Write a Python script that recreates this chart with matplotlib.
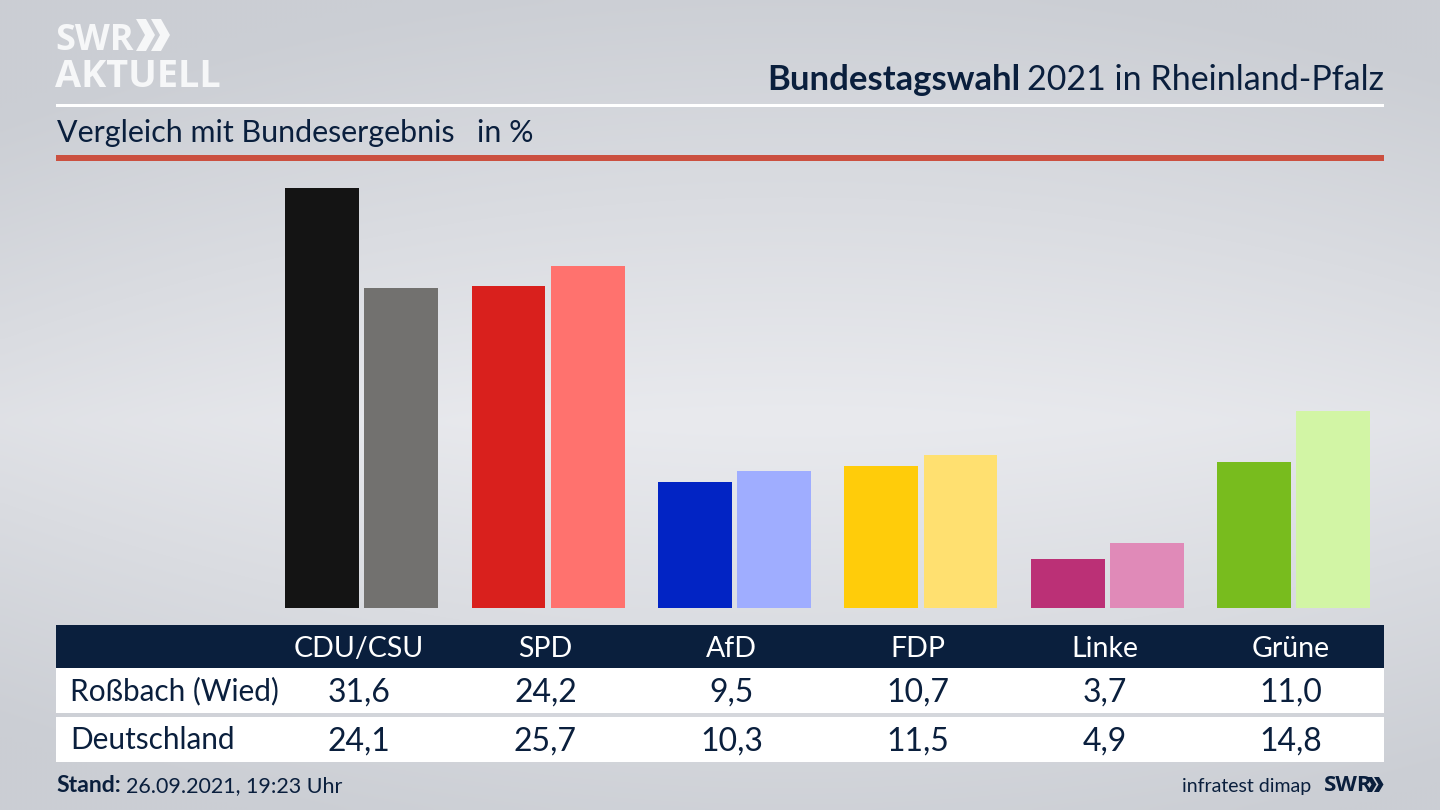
import matplotlib
matplotlib.use("Agg")
import matplotlib.pyplot as plt
import numpy as np
from matplotlib.patches import Polygon, Rectangle

parties = ["CDU/CSU", "SPD", "AfD", "FDP", "Linke", "Grüne"]
rossbach = [31.6, 24.2, 9.5, 10.7, 3.7, 11.0]
deutschland = [24.1, 25.7, 10.3, 11.5, 4.9, 14.8]
rossbach_colors = ["#141414", "#d9201d", "#0224c4", "#ffcc0a", "#bb3076", "#78bc1e"]
deutschland_colors = ["#72716f", "#ff726e", "#9fadff", "#ffe070", "#e08ab8", "#d2f5a5"]
row_names = ["Roßbach (Wied)", "Deutschland"]

NAVY = "#0a1f3d"
WHITE = "#f6f7f8"
FONT = "Lato"
W, H = 1440, 810
CAT_X0, CAT_STEP = 359, 186.4
BASE_Y = 608
PX_PER_UNIT = 13.29


def cat_x(i):
    return CAT_X0 + CAT_STEP * i


def chevrons(ax, x0, y0, y1, width, step, notch, color):
    mid = (y0 + y1) / 2
    for dx in (0, step):
        ax.add_patch(Polygon(
            [(x0 + dx, y0), (x0 + dx + width - notch, y0), (x0 + dx + width, mid),
             (x0 + dx + width - notch, y1), (x0 + dx, y1), (x0 + dx + notch, mid)],
            facecolor=color, linewidth=0, zorder=3))


plt.rcParams["font.family"] = [FONT, "DejaVu Sans"]
fig = plt.figure(figsize=(W / 100, H / 100), dpi=100)

# page in pixel coordinates, y pointing down
page = fig.add_axes([0, 0, 1, 1])
page.set_xlim(0, W)
page.set_ylim(H, 0)
page.axis("off")

# grey background, lightest in the middle
yy, xx = np.mgrid[0:1:162j, 0:1:288j]
shade = 0.9 * np.abs(yy - 0.52) * 2 + 0.35 * np.abs(xx - 0.55) ** 2 * 3
shade = np.clip(shade, 0, 1)
light, dark = np.array([233, 234, 238]), np.array([203, 206, 212])
bg = (light + (dark - light) * shade[..., None]) / 255
page.imshow(bg, extent=[0, W, H, 0], aspect="auto", zorder=0, interpolation="bicubic")

# bars
left, right = 56, 1384
top = 160
bars = fig.add_axes([left / W, 1 - BASE_Y / H, (right - left) / W, (BASE_Y - top) / H])
bars.patch.set_alpha(0)
bars.axis("off")
bars.set_xlim((left - CAT_X0) / CAT_STEP, (right - CAT_X0) / CAT_STEP)
bars.set_ylim(0, (BASE_Y - top) / PX_PER_UNIT)
bar_w = 73.8 / CAT_STEP
gap = 5.3 / CAT_STEP
x = np.arange(len(parties))
bars.bar(x - bar_w, rossbach, bar_w, align="edge", color=rossbach_colors, linewidth=0)
bars.bar(x + gap, deutschland, bar_w, align="edge", color=deutschland_colors, linewidth=0)

# header
page.add_patch(Rectangle((56, 104), 1328, 3, facecolor="white", linewidth=0, zorder=2))
page.add_patch(Rectangle((56, 155), 1328, 5.5, facecolor="#cb5040", linewidth=0, zorder=2))
page.text(1384, 90, "2021 in Rheinland-Pfalz", ha="right", va="baseline", fontsize=24.5, color=NAVY)
page.text(1020, 90, "Bundestagswahl", ha="right", va="baseline", fontsize=24.9, color=NAVY, fontweight="bold")
page.text(57, 142, "Vergleich mit Bundesergebnis", ha="left", va="baseline", fontsize=21.9, color=NAVY)
page.text(477, 142, "in %", ha="left", va="baseline", fontsize=21.9, color=NAVY)

# logo
page.text(55, 50, "SWR", ha="left", va="baseline", fontsize=26, color=WHITE, fontweight="bold",
          family="Open Sans", stretch="condensed")
page.text(55, 87, "AKTUELL", ha="left", va="baseline", fontsize=27.3, color=WHITE, fontweight="bold",
          family="Open Sans", stretch="condensed")
chevrons(page, 136, 19, 51, 19, 15, 9, WHITE)

# table
page.add_patch(Rectangle((56, 625), 1328, 43, facecolor=NAVY, linewidth=0, zorder=2))
page.add_patch(Rectangle((56, 668), 1328, 45, facecolor="white", linewidth=0, zorder=2))
page.add_patch(Rectangle((56, 717), 1328, 45, facecolor="white", linewidth=0, zorder=2))
for i, name in enumerate(parties):
    page.text(cat_x(i), 657, name, ha="center", va="baseline", fontsize=20.5, color="white", zorder=3)
for y, name, values in zip((700, 749), row_names, (rossbach, deutschland)):
    page.text(70, y, name, ha="left", va="baseline", fontsize=21.4, color=NAVY, zorder=3)
    for i, v in enumerate(values):
        label = f"{v:.1f}".replace(".", ",")
        page.text(cat_x(i), y + 2, label, ha="center", va="baseline", fontsize=23, color=NAVY, zorder=3)

# footer
page.text(56, 792, "Stand:", ha="left", va="baseline", fontsize=16.6, color=NAVY, fontweight="bold")
page.text(126, 792, "26.09.2021, 19:23 Uhr", ha="left", va="baseline", fontsize=15.5, color=NAVY)
page.text(1311, 792, "infratest dimap", ha="right", va="baseline", fontsize=14, color=NAVY)
page.text(1324, 791, "SWR", ha="left", va="baseline", fontsize=16, color=NAVY, fontweight="bold",
          family="Open Sans", stretch="condensed")
chevrons(page, 1367, 777, 792, 9.5, 7, 4.5, NAVY)

fig.savefig("out.png", dpi=100)
